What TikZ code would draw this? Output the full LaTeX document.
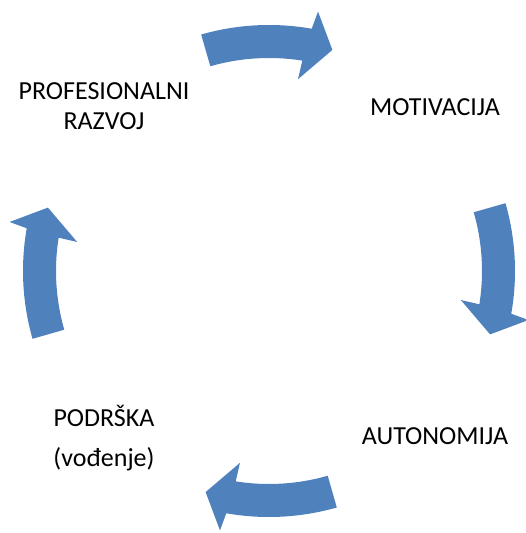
\documentclass[tikz,border=0pt]{standalone}
\usepackage{fontspec}
\setmainfont{Carlito}
\definecolor{cycblue}{HTML}{4F81BD}
\tikzset{
  lbl/.style={align=center, inner sep=0pt, font=\fontsize{26}{30}\selectfont},
  cyc/.style={fill=cycblue}
}

\begin{document}
\begin{tikzpicture}[x=1pt, y=1pt]
    \useasboundingbox (0,0) rectangle (525,533);
    \coordinate (O) at (269,262);

    \node[lbl, anchor=base] (prof) at (104,403) {PROFESIONALNI\\RAZVOJ};
    \node[lbl, anchor=base] (mot) at (435,417) {MOTIVACIJA};
    \node[lbl, anchor=base] (aut) at (435,88) {AUTONOMIJA};
    \node[lbl, anchor=base] (pod) at (104,66) {PODRŠKA\\[10pt](vođenje)};

    % strelice u krugu
    \begin{scope}[shift={(O)}]
    \fill[cyc] (106:246) arc[start angle=106, end angle=80, radius=246] -- (79.3:264) -- (74:230) -- (81.4:194) -- (81:213) arc[start angle=81, end angle=106, radius=213] -- cycle;
    \fill[cyc] (16:246) arc[start angle=16, end angle=-10, radius=246] -- (-10.7:264) -- (-16:230) -- (-8.6:194) -- (-9:213) arc[start angle=-9, end angle=16, radius=213] -- cycle;
    \fill[cyc] (-74:246) arc[start angle=-74, end angle=-100, radius=246] -- (-100.7:264) -- (-106:230) -- (-98.6:194) -- (-99:213) arc[start angle=-99, end angle=-74, radius=213] -- cycle;
    \fill[cyc] (196:246) arc[start angle=196, end angle=170, radius=246] -- (169.3:264) -- (164:230) -- (171.4:194) -- (171:213) arc[start angle=171, end angle=196, radius=213] -- cycle;
    \end{scope}
  \end{tikzpicture}
\end{document}
